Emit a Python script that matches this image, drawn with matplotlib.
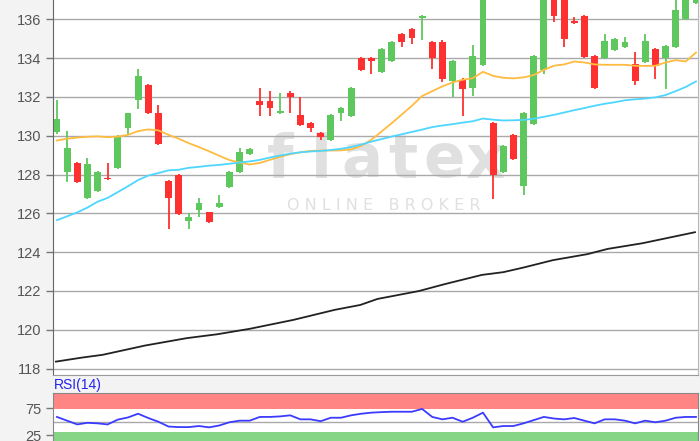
import matplotlib
matplotlib.use("Agg")
import matplotlib.pyplot as plt
import numpy as np

plt.rcParams['font.family'] = ['Liberation Sans', 'DejaVu Sans']

# candles (one per trading day)
opens = [130.2, 128.15, 128.6, 126.8, 127.15, 127.85, 128.35, 130.4, 131.85, 132.6,
         131.2, 127.65, 128.0, 125.6, 126.2, 126.05, 126.35, 127.35, 128.15, 129.05,
         131.8, 131.8, 131.15, 132.2, 131.05, 130.65, 130.15, 129.8, 131.2, 131.0,
         134.0, 134.0, 133.3, 133.85, 135.25, 135.5, 136.05, 134.85, 134.85, 132.85,
         132.9, 132.45, 133.65, 130.65, 128.15, 130.05, 127.4, 130.6, 133.4, 137.6,
         137.2, 135.9, 136.2, 134.1, 134.0, 134.4, 134.6, 133.7, 133.8, 134.45,
         134.0, 134.6, 136.0, 136.85]
highs = [131.85, 130.25, 128.65, 128.85, 128.2, 128.6, 130.05, 131.2, 133.45, 132.65,
         131.6, 127.7, 128.05, 126.0, 126.8, 126.05, 126.95, 128.2, 129.35, 129.35,
         132.45, 132.3, 132.2, 132.3, 132.0, 130.7, 130.2, 131.1, 131.5, 132.5,
         134.05, 134.05, 134.5, 134.9, 135.3, 135.55, 136.25, 134.9, 134.95, 133.9,
         133.0, 134.7, 138.2, 130.7, 129.5, 130.1, 131.25, 134.15, 138.0, 137.9,
         137.4, 136.1, 136.25, 134.15, 135.25, 135.05, 135.1, 134.3, 135.25, 134.5,
         134.7, 137.3, 137.6, 137.8]
lows = [130.1, 127.6, 127.55, 126.75, 127.1, 127.72, 128.3, 130.05, 131.4, 131.1,
        129.5, 125.2, 125.9, 125.2, 125.8, 125.5, 126.3, 127.3, 128.1, 129.0,
        131.0, 131.0, 131.1, 131.2, 130.5, 130.2, 129.8, 129.75, 130.75, 130.95,
        133.35, 133.2, 133.25, 133.8, 134.6, 134.75, 134.95, 133.45, 132.75, 132.0,
        131.0, 132.05, 133.6, 126.75, 128.1, 128.75, 126.95, 130.55, 133.2, 135.85,
        134.6, 135.75, 134.0, 132.4, 133.95, 134.35, 134.55, 132.6, 133.75, 132.95,
        132.4, 134.55, 135.95, 136.8]
closes = [130.85, 129.35, 127.6, 128.55, 128.15, 127.75, 130.0, 131.15, 133.1, 131.15,
          129.6, 126.8, 125.95, 125.8, 126.55, 125.55, 126.55, 128.15, 129.15, 129.3,
          131.6, 131.45, 131.3, 132.0, 130.55, 130.4, 129.95, 131.05, 131.45, 132.45,
          133.4, 133.85, 134.45, 134.85, 134.85, 135.05, 136.2, 134.0, 132.95, 133.85,
          132.4, 134.1, 137.9, 128.0, 129.45, 128.8, 131.2, 134.1, 137.8, 136.2,
          135.0, 135.8, 134.05, 132.45, 134.9, 135.0, 134.85, 132.85, 134.9, 133.6,
          134.65, 136.5, 137.4, 137.5]

# moving averages as drawn on the chart
sma_short = [129.76, 129.85, 129.91, 129.95, 129.97, 129.93, 129.96, 130.05, 130.24, 130.33,
             130.28, 130.05, 129.85, 129.62, 129.42, 129.2, 128.97, 128.75, 128.62, 128.52,
             128.6, 128.76, 128.92, 129.05, 129.15, 129.22, 129.24, 129.24, 129.25, 129.3,
             129.48, 129.8, 130.22, 130.65, 131.1, 131.55, 132.05, 132.3, 132.55, 132.75,
             132.89, 132.97, 133.3, 133.09, 132.99, 132.96, 133.01, 133.13, 133.4, 133.61,
             133.68, 133.83, 133.78, 133.68, 133.66, 133.66, 133.66, 133.61, 133.6, 133.61,
             133.78, 133.9, 133.83, 134.29]
sma_mid = [125.65, 125.85, 126.05, 126.3, 126.6, 126.8, 127.1, 127.4, 127.72, 127.95,
           128.08, 128.22, 128.25, 128.35, 128.4, 128.46, 128.5, 128.56, 128.62, 128.68,
           128.76, 128.88, 128.98, 129.08, 129.15, 129.19, 129.22, 129.27, 129.33, 129.42,
           129.55, 129.7, 129.83, 129.96, 130.08, 130.2, 130.32, 130.45, 130.53, 130.6,
           130.68, 130.75, 130.89, 130.83, 130.79, 130.8, 130.82, 130.88, 130.98, 131.08,
           131.2, 131.32, 131.43, 131.55, 131.65, 131.73, 131.83, 131.88, 131.92, 131.98,
           132.1, 132.3, 132.52, 132.8]
sma_long_x = [-0.1, 2.5, 4.5, 8.7, 12.8, 15.8, 19.0, 23.3, 27.4, 29.9, 31.6,
              35.7, 38.2, 41.9, 44.0, 46.0, 48.9, 52.3, 54.3, 57.7, 59.8, 62.9]
sma_long = [118.36, 118.57, 118.71, 119.19, 119.57, 119.77, 120.05, 120.51, 121.03, 121.28, 121.59,
            122.0, 122.35, 122.83, 122.97, 123.21, 123.59, 123.9, 124.17, 124.46, 124.69, 125.03]

rsi = [59, 52, 45, 48, 47, 45, 54, 58, 65, 57,
       50, 41, 40, 40, 42, 39.5, 43, 49, 52, 52,
       59, 59, 60, 62, 54.5, 54.5, 51, 57.5, 57.5, 62,
       65, 67, 68, 68.7, 68.7, 68.7, 74, 59, 54.5, 57.5,
       50, 57.5, 67, 39.5, 42, 42, 47, 53, 59, 56,
       54.5, 57, 52, 47, 54.5, 54.5, 52, 47, 52, 49,
       52, 57.5, 59, 59]

price_ticks = [118, 120, 122, 124, 126, 128, 130, 132, 134, 136]
rsi_ticks = [25, 75]

up_col = '#5ec85e'
down_col = '#ff3030'
grid_col = '#a9a9a9'
txt_col = '#555555'

fig = plt.figure(figsize=(7.0, 4.41), dpi=100, facecolor='#f3f3f3')
ax = fig.add_axes([53/700, 66/441, 645/700, 375/441])
ax2 = fig.add_axes([53/700, 0.0, 645/700, 48.3/441])

x = np.arange(len(opens))
o = np.array(opens); c = np.array(closes)
colors = [up_col if cc >= oo else down_col for oo, cc in zip(o, c)]

# watermark (pixel positions, origin bottom-left)
for i, ch in enumerate('flatex'):
    ax.text(280 + i*41, 280, ch, transform=None, fontsize=44, fontweight='bold',
            color='#e0e0e0', ha='center', va='center', zorder=0.5, family='DejaVu Sans')
ax.text(384, 235, 'O N L I N E   B R O K E R', transform=None, fontsize=11.5,
        color='#e0e0e0', ha='center', va='center', zorder=0.5, family='DejaVu Sans')

ax.vlines(x, lows, highs, colors=colors, lw=1.3, zorder=3)
ax.bar(x, np.abs(c - o), bottom=np.minimum(o, c), width=0.68, color=colors, zorder=4)

ax.plot(x, sma_short, color='#ffbb40', lw=1.3, zorder=5)
ax.plot(x, sma_mid, color='#4fd6ff', lw=1.3, zorder=5)
ax.plot(sma_long_x, sma_long, color='#222222', lw=1.3, zorder=5)

ax.set_xlim(-0.39, 63.2)
ax.set_ylim(117.67, 137.0)
ax.set_yticks(price_ticks)
ax.set_xticks([])
ax.grid(axis='y', color=grid_col, lw=1.0, zorder=1)
ax.set_axisbelow(True)
ax.tick_params(axis='y', colors='#777777', labelcolor=txt_col, labelsize=10.5, length=5, width=1)
ax.spines['top'].set_visible(False)
ax.spines['left'].set_color('#666666')
ax.spines['bottom'].set_color('#999999')
ax.spines['right'].set_color('#bbbbbb')

# RSI panel
ax2.axhspan(73, 110, color='#ff8585', lw=0, zorder=0)
ax2.axhspan(0, 31, color='#86d486', lw=0, zorder=0)
ax2.axhline(50, color=grid_col, lw=1.0, zorder=1)
ax2.plot(x, rsi, color='#3b3bff', lw=1.3, zorder=3)
ax2.set_xlim(-0.39, 63.2)
ax2.set_ylim(14, 104.3)
ax2.set_yticks(rsi_ticks)
ax2.set_xticks([])
ax2.tick_params(axis='y', colors='#777777', labelcolor=txt_col, labelsize=10.5, length=5, width=1)
ax2.spines['bottom'].set_visible(False)
for s in ['top', 'left', 'right']:
    ax2.spines[s].set_color('#888888')
fig.text(54/700, 1 - 385/441, 'RSI(14)', color='#2222ee', fontsize=10, va='center', ha='left')

fig.savefig('out.png', dpi=100, facecolor=fig.get_facecolor())
